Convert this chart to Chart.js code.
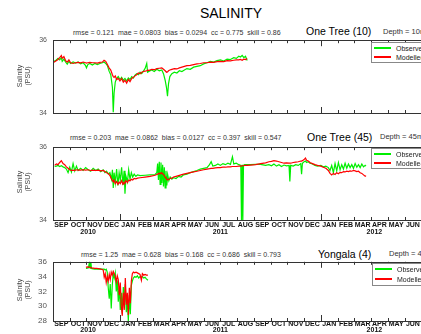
<!DOCTYPE html>
<html>
<head>
<meta charset="utf-8">
<script src="https://cdn.jsdelivr.net/npm/chart.js@4.4.1/dist/chart.umd.min.js"></script>
<style>
  body { margin: 0; width: 421px; height: 334px; overflow: hidden; background: #fff;
         position: relative; font-family: "Liberation Sans", Arial, sans-serif; }
  canvas { position: absolute; left: 0; }
  .t { position: absolute; white-space: nowrap; line-height: 1; transform: translateY(-50%); }
  .stats { font-size: 7px; color: #333; }
  .site { font-size: 10.5px; color: #000; }
  .depth { font-size: 7.5px; color: #333; }
  .ytitle { position: absolute; font-size: 7px; color: #444; line-height: 8px; text-align: center;
            transform: translate(-50%, -50%) rotate(-90deg); white-space: nowrap; }
  .legend { position: absolute; height: 19px; width: 60px; border: 1px solid #888; background: #fff; }
  .legend div { position: absolute; left: 24px; font-size: 7px; color: #222; line-height: 1; transform: translateY(-50%); }
  .legend span { position: absolute; left: 2px; width: 17px; height: 2px; }
</style>
</head>
<body>

<div class="t" style="left:231px; top:13px; font-size:14px; transform:translate(-50%,-50%)">SALINITY</div>

<div class="t stats" style="left:73px; top:32px">rmse = 0.121&nbsp; mae = 0.0803&nbsp; bias = 0.0294&nbsp; cc = 0.775&nbsp; skill = 0.86</div>
<div class="t site" style="left:306px; top:31px">One Tree (10)</div>
<div class="t depth" style="left:383px; top:32px">Depth = 10m</div>

<div class="t stats" style="left:70px; top:137px">rmse = 0.203&nbsp; mae = 0.0862&nbsp; bias = 0.0127&nbsp; cc = 0.397&nbsp; skill = 0.547</div>
<div class="t site" style="left:307px; top:137px">One Tree (45)</div>
<div class="t depth" style="left:380px; top:137px">Depth = 45m</div>

<div class="t stats" style="left:81px; top:254px">rmse = 1.25&nbsp; mae = 0.628&nbsp; bias = 0.168&nbsp; cc = 0.686&nbsp; skill = 0.793</div>
<div class="t site" style="left:318px; top:254px">Yongala (4)</div>
<div class="t depth" style="left:389px; top:254px">Depth = 4m</div>

<canvas id="c1" width="445" height="95" style="top:30px"></canvas>
<canvas id="c2" width="445" height="105" style="top:137px"></canvas>
<canvas id="c3" width="445" height="83" style="top:251px"></canvas>

<div class="ytitle" style="left:24px; top:76px">Salinity<br>(PSU)</div>
<div class="ytitle" style="left:24px; top:182px">Salinity<br>(PSU)</div>
<div class="ytitle" style="left:24px; top:290px">Salinity<br>(PSU)</div>

<div class="legend" style="left:371px; top:42px">
  <span style="top:4px; background:#00ee00"></span><div style="top:5px">Observed</div>
  <span style="top:13px; background:#ff0000"></span><div style="top:14px">Modelled</div>
</div>
<div class="legend" style="left:371px; top:148px">
  <span style="top:4px; background:#00ee00"></span><div style="top:5px">Observed</div>
  <span style="top:13px; background:#ff0000"></span><div style="top:14px">Modelled</div>
</div>
<div class="legend" style="left:372px; top:263px; height:21px">
  <span style="top:4px; background:#00ee00"></span><div style="top:5px">Observed</div>
  <span style="top:14px; background:#ff0000"></span><div style="top:15px">Modelled</div>
</div>

<script>
// time axis is in months since 1 Sep 2010
const monthNames = ['SEP','OCT','NOV','DEC','JAN','FEB','MAR','APR','MAY','JUN','JUL','AUG',
                    'SEP','OCT','NOV','DEC','JAN','FEB','MAR','APR','MAY','JUN','JUL'];
const yearTicks = [2.1, 10.0, 19.2];
const yearNames = ['2010', '2011', '2012'];
const newYearMonths = [4, 16];

// One Tree, 10 m
const t10 = [0.0,0.15,0.3,0.4,0.5,0.55,0.65,0.75,0.85,0.95,1.05,1.2,1.35,1.5,1.65,1.8,1.95,2.0,2.08,2.2,
  2.35,2.5,2.65,2.8,2.95,3.05,3.15,3.25,3.35,3.45,3.55,3.6,3.65,3.72,3.8,3.9,4.0,4.1,4.2,4.3,
  4.4,4.5,4.6,4.7,4.8,4.9,5.0,5.1,5.2,5.3,5.4,5.5,5.6,5.65,5.75,5.9,6.05,6.2,6.35,6.5,
  6.6,6.7,6.78,6.84,6.9,6.98,7.1,7.25,7.4,7.55,7.7,7.85,8.0,8.2,8.4,8.6,8.8,9.0,9.2,9.4,
  9.6,9.8,10.0,10.2,10.4,10.6,10.8,10.95,11.1,11.2,11.3,11.4,11.5,11.6];
const obs10 = [35.40,35.44,35.50,35.46,35.52,35.42,35.48,35.40,35.34,35.42,35.36,35.40,35.37,35.40,35.35,35.38,35.30,35.24,35.33,35.36,
  35.32,35.36,35.33,35.36,35.38,35.40,35.36,35.30,35.15,35.05,34.70,34.02,34.55,34.85,34.95,35.00,34.92,34.98,34.90,34.95,
  34.88,34.96,34.92,35.00,34.96,35.04,35.08,35.05,35.12,35.08,35.15,35.22,35.36,35.12,35.15,35.18,35.14,35.20,35.16,35.18,
  35.08,34.90,34.70,34.46,34.80,35.00,35.08,35.12,35.10,35.16,35.14,35.18,35.22,35.20,35.26,35.28,35.30,35.35,35.38,35.42,
  35.40,35.44,35.46,35.43,35.48,35.47,35.52,35.50,35.56,35.54,35.58,35.52,35.56,35.44];
const mod10 = [35.38,35.42,35.47,35.52,35.58,35.50,35.55,35.44,35.40,35.46,35.38,35.36,35.38,35.39,35.38,35.40,35.38,35.37,35.38,35.39,
  35.38,35.38,35.37,35.39,35.40,35.45,35.42,35.33,35.24,35.18,35.05,35.00,34.98,35.02,34.92,34.95,34.88,34.95,34.85,34.90,
  34.82,34.92,34.86,34.95,34.98,35.02,35.05,35.10,35.08,35.12,35.14,35.15,35.16,35.18,35.17,35.20,35.19,35.22,35.23,35.24,
  35.20,35.16,35.12,35.13,35.16,35.18,35.20,35.22,35.21,35.24,35.26,35.28,35.30,35.31,35.33,35.35,35.36,35.38,35.38,35.40,
  35.39,35.41,35.42,35.41,35.44,35.43,35.45,35.46,35.46,35.47,35.45,35.48,35.47,35.50];

// One Tree, 45 m
const t45 = [0.1,0.2,0.3,0.4,0.5,0.6,0.7,0.8,0.9,1.0,1.1,1.2,1.3,1.4,1.5,1.65,1.8,1.95,2.1,2.25,
  2.4,2.55,2.7,2.85,3.0,3.1,3.2,3.3,3.4,3.5,3.55,3.6,3.65,3.72,3.8,3.88,3.95,4.02,4.1,4.18,
  4.25,4.3,4.36,4.45,4.52,4.6,4.68,4.76,4.85,4.95,5.05,5.2,5.5,5.8,6.1,6.2,6.25,6.3,6.35,6.4,
  6.45,6.5,6.55,6.6,6.65,6.7,6.75,6.8,6.85,6.92,7.0,7.1,7.2,7.35,7.5,7.65,7.8,8.0,8.2,8.4,
  8.6,8.8,9.0,9.2,9.35,9.45,9.55,9.7,9.85,10.0,10.15,10.3,10.45,10.6,10.72,10.8,10.95,11.1,11.22,11.26,
  11.3,11.34,11.38,11.45,11.6,11.8,12.1,12.4,12.7,12.9,13.05,13.2,13.35,13.5,13.65,13.8,13.95,14.1,14.15,14.2,
  14.35,14.5,14.65,14.8,14.85,14.9,15.0,15.08,15.15,15.25,15.35,15.5,15.65,15.8,16.0,16.15,16.3,16.45,16.55,16.65,
  16.75,16.85,16.95,17.05,17.15,17.25,17.35,17.45,17.55,17.65,17.75,17.85,17.95,18.05,18.15,18.25,18.35,18.45,18.55,18.65,18.7];
const obs45 = [35.47,35.48,35.50,35.47,35.49,35.46,35.44,35.40,35.30,35.45,35.32,35.55,35.35,35.48,35.36,35.42,35.36,35.44,35.38,35.34,
  35.42,35.36,35.40,35.33,35.38,35.30,35.34,35.26,35.30,35.12,35.38,34.88,35.30,35.02,35.40,34.95,35.30,35.10,35.45,34.96,
  35.35,34.72,35.20,35.05,35.38,35.12,35.30,35.18,35.26,35.20,35.24,35.22,35.23,35.24,35.25,35.30,35.55,35.10,35.60,34.98,
  35.58,35.02,35.52,34.92,35.45,34.88,35.35,34.95,35.25,35.08,35.18,35.12,35.16,35.14,35.20,35.18,35.24,35.26,35.30,35.33,
  35.36,35.40,35.42,35.44,35.52,35.60,35.48,35.50,35.54,35.50,35.55,35.52,35.56,35.53,35.74,35.54,35.56,35.52,35.50,34.00,
  35.52,34.00,35.50,35.52,35.52,35.52,35.53,35.53,35.50,35.52,35.49,35.54,35.48,35.52,35.47,35.51,35.49,35.50,35.06,35.50,
  35.48,35.52,35.50,35.55,35.26,35.56,35.60,35.62,35.58,35.60,35.56,35.54,35.50,35.48,35.50,35.46,35.48,35.44,35.36,35.50,
  35.30,35.55,35.35,35.58,35.38,35.52,35.40,35.56,35.42,35.54,35.44,35.52,35.42,35.55,35.45,35.52,35.44,35.54,35.46,35.50,35.48];
const mod45 = [35.50,35.54,35.52,35.58,35.63,35.55,35.52,35.46,35.42,35.38,35.36,35.37,35.36,35.38,35.37,35.37,35.38,35.37,35.38,35.36,
  35.37,35.36,35.37,35.35,35.36,35.33,35.30,35.28,35.22,35.12,35.08,35.05,35.10,35.00,35.06,34.98,35.04,35.00,35.08,34.98,
  35.04,35.02,35.08,35.03,35.10,35.08,35.12,35.10,35.14,35.13,35.15,35.16,35.18,35.20,35.23,35.25,35.26,35.28,35.27,35.29,
  35.28,35.30,35.27,35.25,35.22,35.18,35.15,35.12,35.10,35.12,35.14,35.15,35.18,35.20,35.22,35.24,35.26,35.28,35.30,35.32,
  35.34,35.36,35.38,35.40,35.41,35.42,35.42,35.43,35.44,35.44,35.45,35.45,35.46,35.46,35.47,35.47,35.47,35.48,35.48,35.48,
  35.49,35.49,35.49,35.50,35.50,35.51,35.52,35.55,35.57,35.60,35.61,35.63,35.62,35.60,35.58,35.56,35.57,35.56,35.56,35.56,
  35.58,35.59,35.60,35.62,35.62,35.63,35.66,35.70,35.64,35.62,35.58,35.55,35.52,35.50,35.48,35.45,35.42,35.36,35.28,35.24,
  35.28,35.25,35.30,35.27,35.31,35.30,35.33,35.32,35.34,35.33,35.35,35.34,35.36,35.35,35.33,35.34,35.30,35.28,35.24,35.20,35.22];

// Yongala, 4 m
const tYon = [1.97,2.05,2.12,2.18,2.22,2.26,2.3,2.4,2.5,2.6,2.7,2.8,2.9,3.0,3.06,3.12,3.18,3.24,3.3,3.36,
  3.42,3.48,3.54,3.6,3.66,3.72,3.78,3.84,3.9,3.96,4.02,4.08,4.14,4.2,4.26,4.32,4.38,4.44,4.5,4.56,
  4.62,4.68,4.74,4.8,4.88,4.96,5.04,5.12,5.2,5.28,5.34,5.42,5.5,5.58,5.67];
const obsYon = [35.10,35.15,35.20,36.00,35.15,36.00,35.10,35.05,35.00,35.02,35.00,35.05,35.02,35.00,35.00,34.90,35.00,34.60,32.50,31.00,
  33.00,29.70,32.80,34.40,33.80,34.50,32.00,33.50,30.60,32.50,29.50,31.80,29.00,32.60,30.20,33.00,29.20,31.00,28.00,31.50,
  28.90,32.80,33.40,33.80,34.00,33.90,34.10,33.80,34.00,33.90,34.00,33.80,33.90,33.70,33.50];
const modYon = [35.25,35.30,35.28,35.27,35.25,35.22,35.18,35.15,35.12,35.10,35.08,35.05,35.00,34.90,33.90,34.40,33.20,34.00,33.40,34.30,
  33.60,34.60,34.20,34.70,34.40,34.00,33.30,34.10,33.60,31.50,33.20,30.00,28.70,31.80,29.50,33.80,30.20,31.80,28.80,32.50,
  30.40,33.40,34.40,34.60,34.50,34.60,34.50,34.40,34.30,33.50,34.40,34.20,34.30,34.20,34.20];

const green = '#00ee00';
const red = '#ff0000';

function points(times, values) {
  return times.map((t, i) => ({ x: t, y: values[i] }));
}

// box round the plot, with month ticks pointing inwards
const frameTicks = {
  id: 'frameTicks',
  afterDraw(chart) {
    const { ctx, chartArea: a, scales: { x } } = chart;
    ctx.save();
    ctx.strokeStyle = '#333';
    ctx.lineWidth = 1;
    ctx.strokeRect(Math.round(a.left) + 0.5, Math.round(a.top) + 0.5,
                   Math.round(a.right - a.left), Math.round(a.bottom - a.top));
    ctx.beginPath();
    for (let m = 1; m < monthNames.length; m++) {
      const px = Math.round(x.getPixelForValue(m)) + 0.5;
      const len = newYearMonths.includes(m) ? 6 : 3;
      ctx.moveTo(px, a.top);
      ctx.lineTo(px, a.top + len);
      ctx.moveTo(px, a.bottom);
      ctx.lineTo(px, a.bottom - len);
    }
    ctx.stroke();
    ctx.restore();
  }
};

function makePanel(id, cfg) {
  const xTicks = monthNames.map((_, i) => i + 0.5).concat(yearTicks);
  return new Chart(document.getElementById(id), {
    type: 'line',
    data: {
      datasets: [
        { label: 'Observed', data: points(cfg.t, cfg.obs), borderColor: green, order: 2 },
        { label: 'Modelled', data: points(cfg.t, cfg.mod), borderColor: red, order: 1 }
      ]
    },
    options: {
      responsive: false,
      animation: false,
      devicePixelRatio: 1,
      layout: { padding: { top: 8, right: 7, left: 0, bottom: 0 } },
      elements: {
        point: { radius: 0 },
        line: { borderWidth: 1.2, tension: 0 }
      },
      plugins: { legend: { display: false }, tooltip: { enabled: false } },
      scales: {
        x: {
          type: 'linear',
          min: 0,
          max: monthNames.length,
          grid: { display: false, drawTicks: false },
          border: { display: false },
          afterBuildTicks: (s) => { s.ticks = xTicks.map(v => ({ value: v })); },
          afterFit: (s) => { s.height = cfg.xHeight; },
          ticks: {
            display: cfg.labels,
            autoSkip: false,
            maxRotation: 0,
            padding: cfg.labelPad,
            color: '#111',
            font: { family: 'Liberation Sans', size: 7, weight: 'bold', lineHeight: cfg.lineHeight },
            callback: (v) => {
              const yi = yearTicks.indexOf(v);
              if (yi >= 0) return ['', yearNames[yi]];
              return monthNames[Math.floor(v)];
            }
          }
        },
        y: {
          min: cfg.yMin,
          max: cfg.yMax,
          grid: { display: false, drawTicks: false },
          border: { display: false },
          afterFit: (s) => { s.width = 53; },
          ticks: {
            stepSize: cfg.yStep,
            padding: 6,
            color: '#555',
            font: { family: 'Liberation Sans', size: cfg.yFont }
          }
        }
      }
    },
    plugins: [frameTicks]
  });
}

makePanel('c1', { t: t10, obs: obs10, mod: mod10, yMin: 34, yMax: 36, yStep: 2, yFont: 7,
                  labels: false, xHeight: 12, labelPad: 1, lineHeight: 1 });
makePanel('c2', { t: t45, obs: obs45, mod: mod45, yMin: 34, yMax: 36, yStep: 2, yFont: 7,
                  labels: true, xHeight: 22, labelPad: 1.5, lineHeight: 1 });
makePanel('c3', { t: tYon, obs: obsYon, mod: modYon, yMin: 28, yMax: 36, yStep: 2, yFont: 8,
                  labels: true, xHeight: 13, labelPad: 0.5, lineHeight: 0.8 });
</script>
</body>
</html>
